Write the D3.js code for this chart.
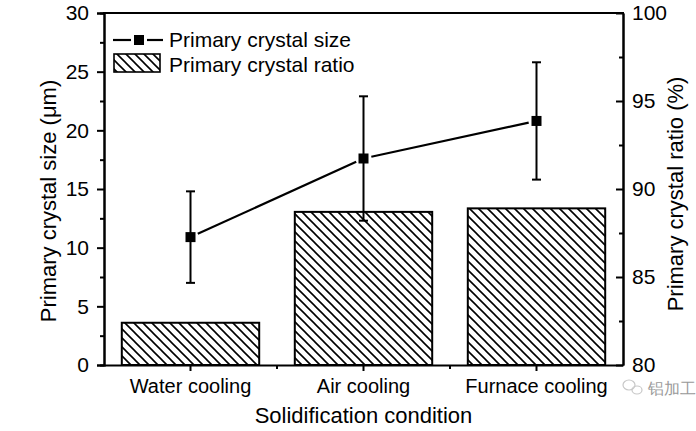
<!DOCTYPE html>
<html><head><meta charset="utf-8">
<script src="https://cdn.jsdelivr.net/npm/d3@7"></script>
<style>
html,body{margin:0;padding:0;background:#fff;}
text{font-family:"Liberation Sans",Arial,sans-serif;fill:#000;}
</style></head>
<body><svg id="c" width="696" height="431"></svg>
<script>
const categories = ["Water cooling", "Air cooling", "Furnace cooling"];
const sizeValues = [10.9, 17.6, 20.8];
const sizeErrors = [3.9, 5.3, 5.0];
const ratioValues = [82.4, 88.7, 88.9];
const leftTicks = [0, 5, 10, 15, 20, 25, 30];
const rightTicks = [80, 85, 90, 95, 100];
const legendLabels = ["Primary crystal size", "Primary crystal ratio"];
const xTitle = "Solidification condition";
const yLeftTitle = "Primary crystal size (\u03bcm)";
const yRightTitle = "Primary crystal ratio (%)";
const watermark = "铝加工";

const svg = d3.select("#c");
const L = 104, R = 623, T = 13, B = 365;

const x = d3.scaleBand().domain(categories).range([L, R]).paddingInner(0.2).paddingOuter(0.1);
const xc = d3.scaleBand().domain(categories).range([L, R]);
const yL = d3.scaleLinear().domain([0, 30]).range([B, T]);
const yR = d3.scaleLinear().domain([80, 100]).range([B, T]);

// hatch pattern
const defs = svg.append("defs");
const pat = defs.append("pattern").attr("id", "hatch").attr("patternUnits", "userSpaceOnUse")
  .attr("width", 9).attr("height", 9);
pat.append("path").attr("d", "M0,0 L9,9 M-2,7 L2,11 M7,-2 L11,2")
  .attr("stroke", "#000").attr("stroke-width", 1.6);

// bars
svg.append("g").selectAll("rect").data(categories).join("rect")
  .attr("x", d => x(d) + 0.5)
  .attr("y", (d, i) => yR(ratioValues[i]))
  .attr("width", x.bandwidth() - 1)
  .attr("height", (d, i) => B - yR(ratioValues[i]))
  .attr("fill", "url(#hatch)").attr("stroke", "#000").attr("stroke-width", 2);

// axes
const minorL = d3.range(2.5, 30, 5);
const gl = svg.append("g").attr("transform", `translate(${L},0)`);
gl.call(d3.axisLeft(yL).tickValues(leftTicks).tickSize(7).tickPadding(8));
gl.append("g").call(d3.axisLeft(yL).tickValues(minorL).tickSize(4).tickFormat(""));
const gr = svg.append("g").attr("transform", `translate(${R},0)`);
gr.call(d3.axisRight(yR).tickValues(rightTicks).tickSizeInner(-7).tickSizeOuter(0).tickPadding(9));
gr.append("g").call(d3.axisRight(yR).tickValues(d3.range(82.5, 100, 5)).tickSizeInner(-4).tickSizeOuter(0).tickFormat(""));
const gb = svg.append("g").attr("transform", `translate(0,${B})`);
gb.call(d3.axisBottom(xc).tickSize(6).tickSizeOuter(0).tickPadding(8));
const bounds = categories.slice(1).map(c => xc(c));
gb.append("g").selectAll("line").data(bounds).join("line")
  .attr("x1", d => d).attr("x2", d => d).attr("y1", 0).attr("y2", 4)
  .attr("stroke", "#000").attr("stroke-width", 2);
// top frame
svg.append("line").attr("x1", L - 1).attr("x2", R + 1).attr("y1", T).attr("y2", T)
  .attr("stroke", "#000").attr("stroke-width", 2);

svg.selectAll(".domain").attr("stroke-width", 2);
svg.selectAll(".tick line").attr("stroke-width", 2);
gl.selectAll(".tick text").attr("font-size", 21).attr("font-family", "Liberation Sans, Arial");
gr.selectAll(".tick text").attr("font-size", 21).attr("font-family", "Liberation Sans, Arial");
gb.selectAll(".tick text").attr("font-size", 20).attr("font-family", "Liberation Sans, Arial");
svg.selectAll(".domain").attr("stroke", "#000");

// line series (segments with small gaps at markers)
const pts = categories.map((c, i) => [xc(c) + xc.bandwidth() / 2, yL(sizeValues[i])]);
const gap = 8;
const lineG = svg.append("g").attr("stroke", "#000").attr("stroke-width", 2.2);
for (let i = 0; i < pts.length - 1; i++) {
  const [ax, ay] = pts[i], [bx, by] = pts[i + 1];
  const len = Math.hypot(bx - ax, by - ay), ux = (bx - ax) / len, uy = (by - ay) / len;
  lineG.append("line").attr("x1", ax + ux * gap).attr("y1", ay + uy * gap)
    .attr("x2", bx - ux * gap).attr("y2", by - uy * gap);
}
const eg = svg.append("g").attr("stroke", "#000").attr("stroke-width", 2);
categories.forEach((c, i) => {
  const cx = pts[i][0];
  const y1 = yL(sizeValues[i] + sizeErrors[i]), y2 = yL(sizeValues[i] - sizeErrors[i]);
  eg.append("line").attr("x1", cx).attr("x2", cx).attr("y1", y1).attr("y2", y2);
  eg.append("line").attr("x1", cx - 4.5).attr("x2", cx + 4.5).attr("y1", y1).attr("y2", y1);
  eg.append("line").attr("x1", cx - 4.5).attr("x2", cx + 4.5).attr("y1", y2).attr("y2", y2);
});
svg.append("g").selectAll("rect").data(pts).join("rect")
  .attr("x", d => d[0] - 5).attr("y", d => d[1] - 5).attr("width", 10).attr("height", 10)
  .attr("fill", "#000");

// legend
const lg = svg.append("g");
lg.append("line").attr("x1", 113).attr("x2", 131).attr("y1", 40).attr("y2", 40)
  .attr("stroke", "#000").attr("stroke-width", 2.2);
lg.append("line").attr("x1", 147).attr("x2", 163).attr("y1", 40).attr("y2", 40)
  .attr("stroke", "#000").attr("stroke-width", 2.2);
lg.append("rect").attr("x", 134).attr("y", 35).attr("width", 10).attr("height", 10).attr("fill", "#000");
lg.append("rect").attr("x", 114).attr("y", 54).attr("width", 46).attr("height", 18)
  .attr("fill", "url(#hatch)").attr("stroke", "#000").attr("stroke-width", 1.6);
lg.append("text").attr("x", 169).attr("y", 47).attr("font-size", 21).text(legendLabels[0]);
lg.append("text").attr("x", 169).attr("y", 72).attr("font-size", 21).text(legendLabels[1]);

// titles
svg.append("text").attr("x", (L + R) / 2).attr("y", 423).attr("text-anchor", "middle")
  .attr("font-size", 22).text(xTitle);
svg.append("text").attr("transform", "translate(56,201) rotate(-90)").attr("text-anchor", "middle")
  .attr("font-size", 22).text(yLeftTitle);
svg.append("text").attr("transform", "translate(683,194) rotate(-90)").attr("text-anchor", "middle")
  .attr("font-size", 22).text(yRightTitle);

// watermark
const wm = svg.append("g").attr("fill", "none").attr("stroke", "#c8c8c8").attr("stroke-width", 1.2);
wm.append("ellipse").attr("cx", 629).attr("cy", 385).attr("rx", 6).attr("ry", 5);
wm.append("ellipse").attr("cx", 637).attr("cy", 390).attr("rx", 5).attr("ry", 4);
svg.append("text").attr("x", 648).attr("y", 394).attr("font-size", 16)
  .attr("font-family", "Noto Sans CJK SC").style("fill", "#9a9a9a").text(watermark);
</script></body></html>
